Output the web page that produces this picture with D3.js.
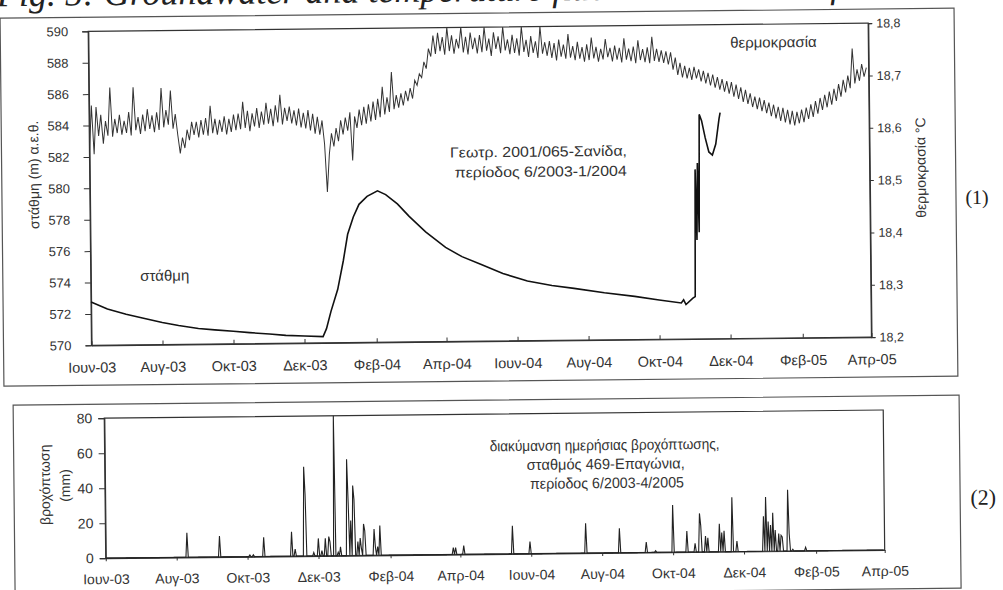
<!DOCTYPE html>
<html>
<head>
<meta charset="utf-8">
<script src="https://cdn.jsdelivr.net/npm/d3@7"></script>
<style>
  body { margin: 0; background: #fff; }
  svg { display: block; font-family: "Liberation Sans", Arial, sans-serif; }
</style>
</head>
<body>
<div id="chart"></div>
<script>
// Data
var tickDates = ["2003-06-01","2003-08-01","2003-10-01","2003-12-01","2004-02-01","2004-04-01",
  "2004-06-01","2004-08-01","2004-10-01","2004-12-01","2005-02-01","2005-04-01"];
var tickLabels = ["Ιουν-03","Αυγ-03","Οκτ-03","Δεκ-03","Φεβ-04","Απρ-04",
  "Ιουν-04","Αυγ-04","Οκτ-04","Δεκ-04","Φεβ-05","Απρ-05"];
var levelTicks = [570,572,574,576,578,580,582,584,586,588,590];
var tempTicks = [18.2,18.3,18.4,18.5,18.6,18.7,18.8];
var rainTicks = [0,20,40,60,80];

// water level (m a.s.l.)
var levelDates = ["2003-06-01","2003-06-15","2003-07-01","2003-07-15","2003-08-01","2003-08-15",
  "2003-09-01","2003-09-15","2003-10-01","2003-10-15","2003-11-01","2003-11-15","2003-12-01",
  "2003-12-17","2003-12-20","2003-12-24","2003-12-30","2004-01-04","2004-01-08","2004-01-13",
  "2004-01-18","2004-01-25","2004-02-03","2004-02-10","2004-02-20","2004-03-01","2004-03-15",
  "2004-04-01","2004-04-15","2004-05-01","2004-05-20","2004-06-10","2004-07-01","2004-07-20",
  "2004-08-15","2004-09-10","2004-10-01","2004-10-20","2004-10-22","2004-10-24","2004-10-30",
  "2004-11-01","2004-11-02","2004-11-03","2004-11-04","2004-11-05","2004-11-06","2004-11-08",
  "2004-11-11","2004-11-14","2004-11-17","2004-11-20","2004-11-23","2004-11-24"];
var levelValues = [572.75,572.3,571.95,571.7,571.4,571.2,
  571.0,570.9,570.8,570.7,570.6,570.5,570.45,
  570.4,570.9,572.0,573.4,575.2,576.9,578.0,
  578.8,579.3,579.65,579.4,578.8,578.0,577.0,
  576.0,575.4,574.9,574.3,573.8,573.5,573.3,
  573.0,572.75,572.5,572.3,572.5,572.2,572.6,
  572.7,580.8,576.3,581.2,576.8,584.3,583.9,
  582.8,581.9,581.7,582.4,584.0,584.4];

// temperature (°C), one reading every 2 days from 1 June 2003
var tempStart = "2003-06-01";
var tempStepDays = 2;
var tempValues = [
  18.570,18.658,18.565,18.655,18.600,18.640,18.585,18.628,18.600,18.692,18.598,18.632,18.605,18.640,18.602,
  18.628,18.605,18.645,18.600,18.692,18.610,18.635,18.603,18.640,18.608,18.650,18.612,18.638,18.606,18.644,18.610,
  18.690,18.615,18.648,18.620,18.685,18.612,18.640,18.600,18.565,18.595,18.575,18.610,18.590,18.625,18.600,
  18.625,18.595,18.628,18.600,18.632,18.598,18.655,18.603,18.630,18.600,18.628,18.605,18.635,18.600,18.630,
  18.605,18.638,18.608,18.640,18.610,18.662,18.612,18.645,18.606,18.640,18.615,18.650,18.612,18.643,18.618,18.660,
  18.620,18.648,18.615,18.655,18.622,18.675,18.618,18.650,18.625,18.652,18.620,18.645,18.616,18.648,18.612,
  18.640,18.610,18.645,18.606,18.638,18.600,18.632,18.598,18.625,18.580,18.488,18.560,18.600,18.575,18.610,
  18.585,18.625,18.598,18.630,18.605,18.640,18.548,18.632,18.610,18.645,18.615,18.650,18.618,18.655,18.622,18.660,
  18.625,18.665,18.630,18.688,18.635,18.668,18.640,18.716,18.645,18.672,18.648,18.675,18.652,18.680,
  18.660,18.685,18.665,18.700,18.690,18.712,18.705,18.735,18.722,18.760,18.745,18.785,18.750,18.790,18.755,18.782,
  18.748,18.800,18.755,18.785,18.750,18.778,18.760,18.800,18.752,18.782,18.748,18.790,18.758,18.780,18.750,
  18.785,18.752,18.800,18.755,18.778,18.745,18.790,18.758,18.782,18.750,18.800,18.755,18.776,18.748,18.785,
  18.750,18.778,18.745,18.800,18.752,18.775,18.742,18.782,18.750,18.772,18.740,18.800,18.748,18.770,18.744,
  18.772,18.740,18.768,18.735,18.775,18.742,18.765,18.738,18.785,18.740,18.762,18.735,18.770,18.738,18.760,18.732,
  18.765,18.735,18.778,18.738,18.760,18.732,18.756,18.736,18.775,18.740,18.758,18.732,18.762,18.735,18.758,
  18.730,18.776,18.735,18.756,18.732,18.760,18.728,18.772,18.734,18.755,18.730,18.758,18.728,18.778,18.732,
  18.755,18.730,18.752,18.728,18.750,18.725,18.748,18.715,18.738,18.705,18.728,18.700,18.722,18.698,18.718,18.695,
  18.720,18.698,18.715,18.692,18.712,18.688,18.708,18.684,18.705,18.680,18.700,18.676,18.696,18.672,18.692,
  18.668,18.690,18.662,18.685,18.658,18.680,18.652,18.675,18.648,18.668,18.642,18.662,18.638,18.660,18.634,
  18.655,18.630,18.650,18.624,18.646,18.620,18.642,18.615,18.640,18.612,18.636,18.608,18.634,18.606,18.632,18.610,
  18.636,18.612,18.640,18.618,18.646,18.622,18.652,18.628,18.658,18.635,18.664,18.640,18.670,18.645,
  18.675,18.652,18.684,18.660,18.692,18.668,18.700,18.676,18.752,18.685,18.712,18.690,18.722,18.698,18.715];

// daily rainfall (mm), days not listed had no rain
var rainDates = ["2003-08-10","2003-09-07","2003-10-03","2003-10-06","2003-10-15","2003-11-08",
  "2003-11-11","2003-11-19","2003-11-20","2003-11-27","2003-12-01","2003-12-04","2003-12-07",
  "2003-12-10","2003-12-11","2003-12-15","2003-12-18","2003-12-20","2003-12-26","2003-12-27",
  "2003-12-29","2003-12-31","2004-01-01","2004-01-04","2004-01-06","2004-01-07","2004-01-09",
  "2004-01-10","2004-01-18","2004-01-19","2004-01-21","2004-01-23","2004-03-26","2004-03-28",
  "2004-04-04","2004-05-16","2004-05-31","2004-07-18","2004-08-16","2004-09-08","2004-09-16",
  "2004-10-01","2004-10-13","2004-10-20","2004-10-24","2004-10-25","2004-10-29","2004-10-31",
  "2004-11-10","2004-11-12","2004-11-14","2004-11-21","2004-11-25","2004-12-18","2004-12-20",
  "2004-12-22","2004-12-24","2004-12-26","2004-12-28","2004-12-31","2005-01-02","2005-01-03",
  "2005-01-08","2005-01-09","2005-01-12","2005-01-23"];
var rainValues = [14,12,1,1,11,14,
  4,51,35,2,10,3,10,
  11,8,80,2,5,55,30,
  20,40,32,8,10,4,18,
  14,15,5,5,17,4,4,
  5,16,7,17,14,6,1,
  27,12,5,22,15,9,8,
  16,11,12,31,6,20,31,
  17,15,22,12,10,9,8,
  35,10,1,2];

var W = 1003, H = 590;
var parse = d3.timeParse("%Y-%m-%d");
var t0 = parse("2003-06-01"), t1 = parse("2005-04-01");
var ink = "#333";

var svg = d3.select("#chart").append("svg")
  .attr("width", W).attr("height", H);
svg.append("rect").attr("width", W).attr("height", H).attr("fill", "#fff");

// the scan is slightly tilted
var root = svg.append("g").attr("transform", "rotate(-0.6,500,295)");

// caption, cut off by the top edge as in the scan
root.append("text")
  .attr("x", 0).attr("y", 1)
  .attr("font-family", "Liberation Serif, serif")
  .attr("font-style", "italic")
  .attr("font-size", 36)
  .attr("fill", "#222")
  .text("Fig. 5:  Groundwater and temperature fluctuations vs rainfall at Sanida");

// frames
root.append("rect").attr("x", 3).attr("y", 13).attr("width", 954).attr("height", 368)
  .attr("fill", "none").attr("stroke", "#555").attr("stroke-width", 1.2);
root.append("rect").attr("x", 12).attr("y", 400).attr("width", 946).attr("height", 193)
  .attr("fill", "none").attr("stroke", "#555").attr("stroke-width", 1.2);

// ---------- panel 1 ----------
var p1 = {l: 91, r: 871, t: 27, b: 341};
var x1 = d3.scaleTime().domain([t0, t1]).range([p1.l, p1.r]);
var yL = d3.scaleLinear().domain([570, 590]).range([p1.b, p1.t]);
var yT = d3.scaleLinear().domain([18.2, 18.8]).range([p1.b, p1.t]);

svg.append("defs").append("clipPath").attr("id", "clip1")
  .append("rect").attr("x", p1.l).attr("y", p1.t).attr("width", p1.r - p1.l).attr("height", p1.b - p1.t);

root.append("rect").attr("x", p1.l).attr("y", p1.t).attr("width", p1.r - p1.l).attr("height", p1.b - p1.t)
  .attr("fill", "none").attr("stroke", ink).attr("stroke-width", 1.2);

function styleAxis(g, size) {
  g.attr("font-family", "Liberation Sans, Arial, sans-serif").attr("font-size", size).attr("color", ink);
  g.select(".domain").attr("stroke-width", 1.2);
}

root.append("g").attr("transform", "translate(0," + p1.b + ")")
  .call(d3.axisBottom(x1).tickValues(tickDates.map(parse))
    .tickFormat(function (d, i) { return tickLabels[i]; })
    .tickSizeInner(-4).tickSizeOuter(0).tickPadding(17))
  .call(styleAxis, 14.5);

root.append("g").attr("transform", "translate(" + p1.l + ",0)")
  .call(d3.axisLeft(yL).tickValues(levelTicks).tickSizeOuter(0).tickSize(6).tickPadding(14))
  .call(styleAxis, 13);

root.append("g").attr("transform", "translate(" + p1.r + ",0)")
  .call(d3.axisRight(yT).tickValues(tempTicks).tickSizeOuter(0).tickSize(4).tickPadding(4)
    .tickFormat(function (d) { return d.toFixed(1).replace(".", ","); }))
  .call(styleAxis, 12.5);

var tempData = tempValues.map(function (v, i) {
  return {d: d3.timeDay.offset(parse(tempStart), i * tempStepDays), v: v};
});
root.append("path").datum(tempData)
  .attr("clip-path", "url(#clip1)")
  .attr("fill", "none").attr("stroke", "#333").attr("stroke-width", 1)
  .attr("d", d3.line().x(function (p) { return x1(p.d); }).y(function (p) { return yT(p.v); }));

var levelData = levelDates.map(function (s, i) { return {d: parse(s), v: levelValues[i]}; });
root.append("path").datum(levelData)
  .attr("fill", "none").attr("stroke", "#111").attr("stroke-width", 1.6)
  .attr("d", d3.line().x(function (p) { return x1(p.d); }).y(function (p) { return yL(p.v); }));

// labels panel 1
root.append("text").attr("transform", "translate(35,170) rotate(-90)")
  .attr("text-anchor", "middle").attr("dy", "0.35em").attr("font-size", 14).attr("fill", ink)
  .text("στάθμη (m) α.ε.θ.");
root.append("text").attr("transform", "translate(922,172) rotate(-90)")
  .attr("text-anchor", "middle").attr("dy", "0.35em").attr("font-size", 14).attr("fill", ink)
  .text("θερμοκρασία °C");
root.append("text").attr("x", 776).attr("y", 45).attr("dy", "0.35em")
  .attr("text-anchor", "middle").attr("font-size", 15).attr("fill", ink).text("θερμοκρασία");
root.append("text").attr("x", 165).attr("y", 272).attr("dy", "0.35em")
  .attr("text-anchor", "middle").attr("font-size", 15).attr("fill", ink).text("στάθμη");
root.append("text").attr("x", 540).attr("y", 152).attr("dy", "0.35em")
  .attr("text-anchor", "middle").attr("font-size", 14.5).attr("fill", ink)
  .attr("textLength", 177).attr("lengthAdjust", "spacingAndGlyphs")
  .text("Γεωτρ. 2001/065-Σανίδα,");
root.append("text").attr("x", 542).attr("y", 172).attr("dy", "0.35em")
  .attr("text-anchor", "middle").attr("font-size", 14.5).attr("fill", ink)
  .attr("textLength", 172).attr("lengthAdjust", "spacingAndGlyphs")
  .text("περίοδος 6/2003-1/2004");
root.append("text").attr("x", 978).attr("y", 202).attr("dy", "0.35em")
  .attr("text-anchor", "middle").attr("font-family", "Liberation Serif, serif")
  .attr("font-size", 20).attr("fill", "#222").text("(1)");

// ---------- panel 2 ----------
var p2 = {l: 103, r: 882, t: 414, b: 554};
var x2 = d3.scaleTime().domain([t0, t1]).range([p2.l, p2.r]);
var yR = d3.scaleLinear().domain([0, 80]).range([p2.b, p2.t]);

root.append("rect").attr("x", p2.l).attr("y", p2.t).attr("width", p2.r - p2.l).attr("height", p2.b - p2.t)
  .attr("fill", "none").attr("stroke", ink).attr("stroke-width", 1.2);

root.append("g").attr("transform", "translate(0," + p2.b + ")")
  .call(d3.axisBottom(x2).tickValues(tickDates.map(parse))
    .tickFormat(function (d, i) { return tickLabels[i]; })
    .tickSizeInner(3).tickSizeOuter(0).tickPadding(13))
  .call(styleAxis, 14);

root.append("g").attr("transform", "translate(" + p2.l + ",0)")
  .call(d3.axisLeft(yR).tickValues(rainTicks).tickSizeOuter(0).tickSize(6).tickPadding(6))
  .call(styleAxis, 14);

var rainMap = new Map(rainDates.map(function (s, i) { return [s, rainValues[i]]; }));
var fmt = d3.timeFormat("%Y-%m-%d");
var rainData = d3.timeDay.range(t0, t1).map(function (d) {
  return {d: d, v: rainMap.has(fmt(d)) ? rainMap.get(fmt(d)) : 0};
});
root.append("path").datum(rainData)
  .attr("fill", "none").attr("stroke", "#222").attr("stroke-width", 1.1)
  .attr("d", d3.line().x(function (p) { return x2(p.d); }).y(function (p) { return yR(p.v); }));

root.append("text").attr("transform", "translate(43,480) rotate(-90)")
  .attr("text-anchor", "middle").attr("dy", "0.35em").attr("font-size", 14).attr("fill", ink)
  .text("βροχόπτωση");
root.append("text").attr("transform", "translate(63,481) rotate(-90)")
  .attr("text-anchor", "middle").attr("dy", "0.35em").attr("font-size", 14).attr("fill", ink)
  .text("(mm)");
[["διακύμανση ημερήσιας βροχόπτωσης,", 603, 446, 230],
 ["σταθμός 469-Επαγώνια,", 604, 465, 158],
 ["περίοδος 6/2003-4/2005", 605, 484, 154]].forEach(function (t) {
  root.append("text").attr("x", t[1]).attr("y", t[2]).attr("dy", "0.35em")
    .attr("text-anchor", "middle").attr("font-size", 15).attr("fill", ink)
    .attr("textLength", t[3]).attr("lengthAdjust", "spacingAndGlyphs")
    .text(t[0]);
});
root.append("text").attr("x", 981).attr("y", 502).attr("dy", "0.35em")
  .attr("text-anchor", "middle").attr("font-family", "Liberation Serif, serif")
  .attr("font-size", 22).attr("fill", "#222").text("(2)");
</script>
</body>
</html>
